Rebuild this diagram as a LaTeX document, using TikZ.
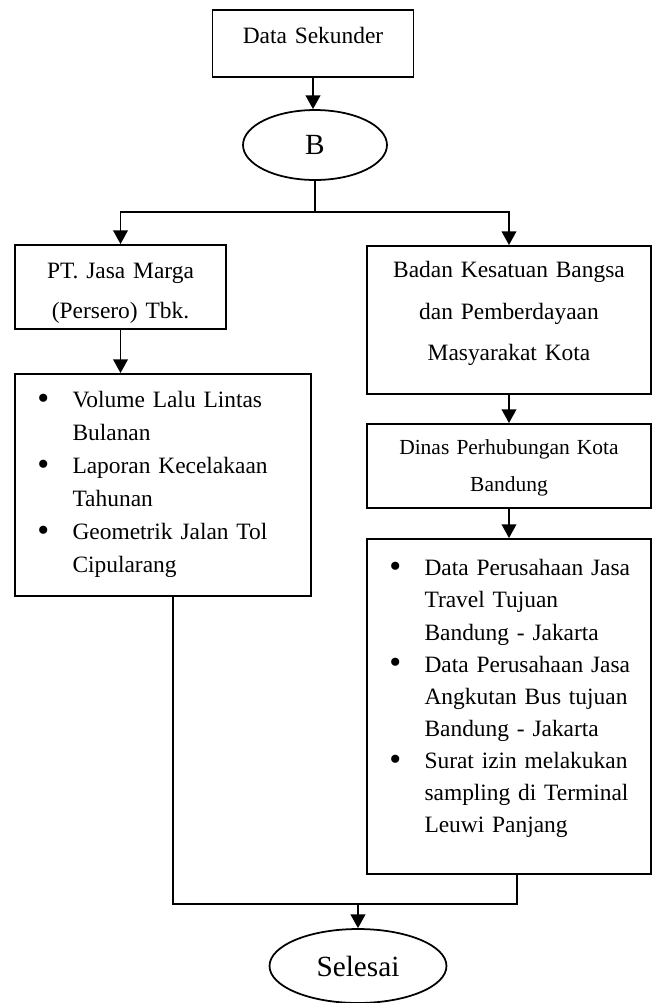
\documentclass[tikz,border=0pt]{standalone}
\usepackage{fontspec}
\usepackage{graphicx}
\setmainfont{Liberation Serif}
\usetikzlibrary{arrows.meta,positioning,calc,shapes.geometric}
\newcommand{\bitem}[1]{\hangindent=0.945cm\hangafter=1\rightskip=0pt plus 1fil\hyphenpenalty=10000\noindent\makebox[0.945cm][l]{\hspace{0.31cm}\raisebox{-0.8pt}{\scalebox{1.45}{\textbullet}}}#1\par}

\begin{document}
\begin{tikzpicture}[
    x=0.018cm, y=-0.018cm,
    font=\fontsize{12}{14}\selectfont,
    box/.style={
        rectangle, draw=black, line width=0.9pt, fill=white,
        inner sep=0pt, align=center, anchor=north
    },
    listbox/.style={box, inner xsep=0.09cm, align=left},
    oval/.style={
        ellipse, draw=black, line width=0.9pt, fill=white, inner sep=0pt,
        font=\fontsize{15}{18}\selectfont
    },
    arr/.style={-{Triangle[length=7pt,width=7.5pt]}, line width=0.9pt},
    ln/.style={line width=0.9pt}
]
    \path[use as bounding box, fill=white] (0,0) rectangle (652,1003);

    % Start: secondary data
    \node [box, text width=3.618cm, text height=0.612cm, text depth=0.594cm] (sek) at (313,9) {Data Sekunder};
    \node [oval, minimum width=2.592cm, minimum height=1.26cm] (B) at (315,145) {B};
    \draw [arr] (sek.south) -- (sek.south |- B.north);

    % Left branch: PT. Jasa Marga
    \node [box, text width=3.798cm, text height=0.612cm, text depth=0.9cm,
           font=\fontsize{12}{20.5}\selectfont] (jm) at (120.5,244) {PT. Jasa Marga\\(Persero) Tbk.};
    \node [listbox, text width=5.148cm, text height=0.612cm, text depth=3.384cm,
           font=\fontsize{12}{16.9}\selectfont] (jmdata) at (163,373) {%
        \bitem{Volume Lalu Lintas Bulanan}%
        \bitem{Laporan Kecelakaan Tahunan}%
        \bitem{Geometrik Jalan Tol Cipularang}};
    \draw [arr] (jm.south) -- (jm.south |- jmdata.north);

    % Right branch: Kesbangpol and Dishub
    \node [box, text width=5.112cm, text height=0.576cm, text depth=2.088cm,
           font=\fontsize{12}{21.25}\selectfont] (kesbang) at (509,245) {Badan Kesatuan Bangsa\\dan Pemberdayaan\\Masyarakat Kota};
    \node [box, text width=5.112cm, text height=0.558cm, text depth=0.954cm,
           font=\fontsize{11}{18.95}\selectfont] (dishub) at (509,423) {Dinas Perhubungan Kota\\Bandung};
    \node [listbox, text width=4.932cm, text height=0.666cm, text depth=5.364cm,
           font=\fontsize{12}{16.45}\selectfont] (dishubdata) at (509,538) {%
        \bitem{Data Perusahaan Jasa Travel Tujuan Bandung - Jakarta}%
        \bitem{Data Perusahaan Jasa Angkutan Bus tujuan Bandung - Jakarta}%
        \bitem{Surat izin melakukan sampling di Terminal Leuwi Panjang}};
    \draw [arr] (kesbang.south) -- (dishub.north);
    \draw [arr] (dishub.south) -- (dishubdata.north);

    % Split from B into the two sources
    \coordinate (split) at (315,212);
    \draw [ln] (B.south) -- (split);
    \draw [arr] (split) -| (jm.north);
    \draw [arr] (split) -| (kesbang.north);

    % End
    \node [oval, minimum width=3.186cm, minimum height=1.332cm] (fin) at (358,966) {Selesai};
    \coordinate (join) at (358,904);
    \draw [ln] ($(jmdata.south)+(10,0)$) |- (join) -| ($(dishubdata.south)+(8,0)$);
    \draw [arr] (join) -- (fin.north);

\end{tikzpicture}
\end{document}
